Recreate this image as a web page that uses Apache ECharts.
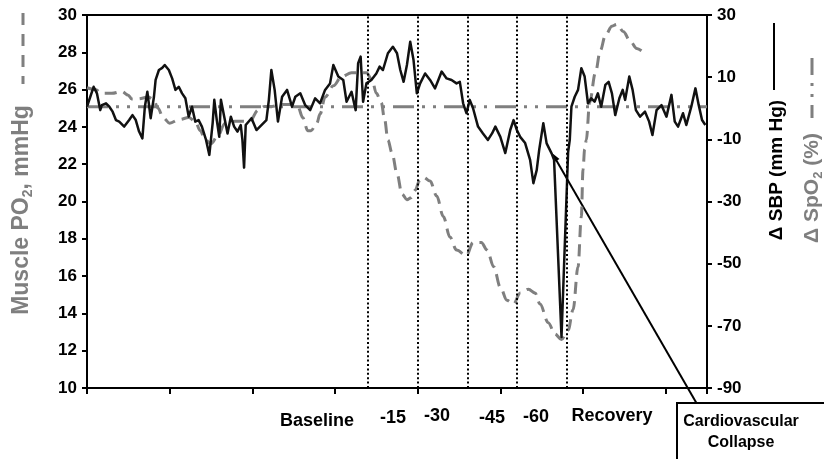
<!DOCTYPE html>
<html>
<head>
<meta charset="utf-8">
<script src="https://cdn.jsdelivr.net/npm/echarts@6/dist/echarts.min.js"></script>
<style>
  html, body { margin: 0; padding: 0; background: #fff; }
  #chart { width: 824px; height: 459px; }
</style>
</head>
<body>
<div id="chart"></div>
<script>
// Time position of each sample along the protocol (arbitrary time units, 0–750)
const sbpTime = [
  0, 4, 8, 12, 16, 18, 23, 27, 31, 35,
  39, 45, 51, 55, 59, 63, 67, 70, 73, 77,
  81, 83, 87, 91, 94, 99, 103, 107, 111, 115,
  119, 123, 127, 131, 135, 139, 144, 148, 152, 154,
  157, 160, 162, 166, 170, 174, 178, 182, 186, 188,
  190, 192, 199, 205, 211, 217, 220, 223, 227, 231,
  236, 242, 248, 252, 258, 264, 270, 276, 282, 288,
  294, 298, 304, 310, 314, 320, 325, 328, 331, 334,
  338, 344, 350, 354, 358, 364, 370, 375, 379, 383,
  387, 391, 395, 399, 403, 409, 415, 421, 425, 429,
  435, 441, 447, 451, 455, 459, 463, 467, 473, 479,
  485, 490, 494, 500, 506, 512, 516, 520, 524, 530,
  536, 540, 544, 547, 552, 556, 562, 565, 574, 582,
  584, 586, 590, 594, 598, 602, 606, 610, 614, 618,
  622, 627, 631, 635, 639, 644, 648, 651, 656, 660,
  664, 669, 675, 680, 684, 689, 695, 701, 707, 711,
  715, 721, 725, 731, 736, 740, 744, 748
];
// Change in systolic blood pressure (mm Hg)
const sbpChange = [
  0.5, 3.7, 6.9, 4.8, -0.6, 1.0, 1.6, 0.5, -1.1, -3.8,
  -4.3, -5.9, -3.8, -2.2, -3.8, -7.5, -9.7, 0.5, 5.3, -3.2,
  3.7, 9.1, 12.3, 13.0, 13.9, 12.3, 9.6, 5.9, 6.9, 4.8,
  3.2, -2.7, 0.5, -4.3, -3.8, -5.9, -10.2, -15.0, -4.8, 2.7,
  -3.8, -9.2, 2.7, -2.7, -8.1, -2.7, -5.9, -7.5, -5.4, -10.2,
  -19.1, -5.4, -3.2, -7.0, -5.4, -3.8, 2.7, 12.3, 5.9, -4.3,
  3.7, 5.9, 0.5, 3.7, 4.8, 1.0, -0.6, 3.2, 1.6, 5.9,
  8.0, 13.9, 10.2, 9.1, 2.1, 5.3, -0.6, 14.5, 16.6, 2.1,
  8.0, 9.1, 11.2, 13.4, 12.3, 17.7, 19.8, 17.7, 12.3, 8.5,
  13.9, 21.4, 15.5, 4.8, 8.0, 11.2, 9.1, 6.4, 9.1, 11.8,
  9.6, 9.1, 8.0, 8.5, 1.6, -1.6, 2.7, 0.0, -5.9, -8.1,
  -10.2, -8.1, -5.9, -9.2, -14.4, -7.0, -3.8, -7.0, -9.2, -11.2,
  -16.6, -24.1, -19.9, -13.4, -4.8, -11.3, -14.5, -16.6, -73.6, -14.1,
  -10.2, 0.5, 3.7, 5.9, 12.9, 10.2, 1.6, 3.2, 2.1, 4.8,
  0.5, 7.5, 8.5, 4.8, -2.2, 3.2, 5.9, 2.7, 10.2, 5.9,
  -0.6, -2.7, -1.1, -4.3, -8.6, -0.6, 1.0, -2.7, 4.3, -4.3,
  -5.9, -1.6, -5.4, 0.5, 6.4, 1.0, -3.8, -5.4
];

// Muscle oxygen tension (mmHg)
const po2Time = [
  0, 10, 18, 30, 42, 50, 54, 62, 74, 80,
  86, 92, 100, 112, 123, 131, 137, 143, 150, 158,
  167, 179, 197, 207, 215, 224, 236, 248, 255, 261,
  267, 271, 278, 282, 288, 298, 308, 320, 332, 338,
  345, 350, 356, 360, 364, 369, 375, 381, 387, 392,
  397, 402, 407, 415, 423, 431, 439, 447, 459, 467,
  477, 484, 492, 500, 508, 516, 524, 534, 542, 548,
  558, 566, 574, 582, 588, 594, 598, 600, 602, 604,
  608, 615, 621, 627, 635, 641, 649, 657, 665, 673
];
const po2Values = [
  26.1, 26.0, 25.8, 25.8, 25.9, 25.7, 25.5, 25.5, 25.6, 25.5,
  25.0, 24.5, 24.2, 24.4, 24.5, 24.3, 23.8, 23.3, 23.1, 23.5,
  24.2, 24.3, 24.3, 24.9, 25.1, 25.1, 25.2, 25.2, 25.1, 24.5,
  23.8, 23.8, 24.2, 24.7, 25.6, 26.2, 26.7, 26.9, 26.9, 26.9,
  26.5, 25.8, 25.3, 24.4, 23.3, 22.6, 21.5, 20.4, 20.1, 20.2,
  20.6, 21.1, 21.3, 21.1, 20.3, 19.2, 18.1, 17.4, 17.1, 17.8,
  17.8, 17.4, 16.5, 15.4, 14.7, 14.5, 15.1, 15.3, 15.1, 14.5,
  13.5, 12.9, 12.6, 13.1, 14.2, 16.5, 19.2, 21.7, 22.8, 23.3,
  25.3, 26.9, 28.1, 28.9, 29.4, 29.5, 29.1, 28.6, 28.2, 28.0
];

// Change in oxygen saturation (%), unchanged through the protocol
const spo2Time = [0, 750];
const spo2Change = [0.5, 0.5];

// Start of each hemorrhage stage and of recovery
const stageBoundaries = [340, 400, 460, 520, 580];
const stageLabels = ['Baseline', '-15', '-30', '-45', '-60', 'Recovery'];
const eventLabel = ['Cardiovascular', 'Collapse'];

const zip = (xs, ys) => xs.map((x, i) => [x, ys[i]]);

const FONT = '"Liberation Sans", Arial, sans-serif';
const GRAY = '#7f7f7f';

const chart = echarts.init(document.getElementById('chart'), null, { renderer: 'canvas' });

const axisBase = {
  axisLine: { show: true, onZero: false, lineStyle: { color: '#000', width: 2 } },
  axisTick: { show: true, inside: false, length: 5, lineStyle: { color: '#000', width: 2 } },
  splitLine: { show: false },
  axisLabel: { color: '#000', fontFamily: FONT, fontWeight: 'bold', fontSize: 17, margin: 10 }
};

// Text placed under the x axis for each protocol stage
const stagePos = [[317, 421], [393, 418], [437, 416], [492, 418], [536, 417], [612, 416]];
const stageText = stageLabels.map((t, i) => ({
  type: 'text', x: stagePos[i][0], y: stagePos[i][1], silent: true,
  style: { text: t, textAlign: 'center', textVerticalAlign: 'middle',
    font: 'bold 18px ' + FONT, fill: '#000' }
}));

chart.setOption({
  animation: false,
  backgroundColor: '#fff',
  grid: { left: 87, right: 117, top: 15, bottom: 71, show: true, borderColor: '#000', borderWidth: 2, backgroundColor: 'transparent' },
  xAxis: Object.assign({}, axisBase, {
    type: 'value', min: 0, max: 750, interval: 100,
    axisTick: { show: true, length: 6, lineStyle: { color: '#000', width: 2 } },
    axisLabel: { show: false }
  }),
  yAxis: [
    Object.assign({}, axisBase, { type: 'value', position: 'left', min: 10, max: 30, interval: 2 }),
    Object.assign({}, axisBase, { type: 'value', position: 'right', min: -90, max: 30, interval: 20 })
  ],
  series: [
    {
      name: 'ΔSpO2', type: 'line', yAxisIndex: 1, data: zip(spo2Time, spo2Change),
      showSymbol: false, silent: true,
      lineStyle: { color: GRAY, width: 3, type: [21, 8, 3, 8, 3, 8] }
    },
    {
      name: 'Muscle PO2', type: 'line', yAxisIndex: 0, data: zip(po2Time, po2Values),
      showSymbol: false, silent: true, smooth: 0.35, smoothMonotone: 'x',
      lineStyle: { color: GRAY, width: 3, type: [12, 7] }
    },
    {
      name: 'ΔSBP', type: 'line', yAxisIndex: 1, data: zip(sbpTime, sbpChange),
      showSymbol: false, silent: true,
      lineStyle: { color: '#111', width: 2.5, join: 'round' },
      markLine: {
        silent: true, symbol: ['none', 'none'], label: { show: false },
        lineStyle: { color: '#000', width: 2, type: [2, 2.4] },
        data: stageBoundaries.map(v => ({ xAxis: v }))
      }
    }
  ],
  graphic: [
    // left axis title with its line sample
    { type: 'line', silent: true, shape: { x1: 23, y1: 13, x2: 23, y2: 84 },
      style: { stroke: GRAY, lineWidth: 3, lineDash: [12, 9] } },
    { type: 'text', x: 22, y: 210, rotation: Math.PI / 2, silent: true,
      style: { text: '{a|Muscle PO}{s|2}{a|, mmHg}', textAlign: 'center', textVerticalAlign: 'middle',
        rich: {
          a: { fontFamily: FONT, fontWeight: 'bold', fontSize: 23, fill: GRAY, lineHeight: 26 },
          s: { fontFamily: FONT, fontWeight: 'bold', fontSize: 14, fill: GRAY, lineHeight: 13, verticalAlign: 'bottom' }
        } } },
    // right axis titles with their line samples
    { type: 'line', silent: true, shape: { x1: 774, y1: 23, x2: 774, y2: 90 },
      style: { stroke: '#000', lineWidth: 2 } },
    { type: 'text', x: 777, y: 170, rotation: Math.PI / 2, silent: true,
      style: { text: 'Δ SBP (mm Hg)', textAlign: 'center', textVerticalAlign: 'middle',
        font: 'bold 19px ' + FONT, fill: '#000' } },
    { type: 'line', silent: true, shape: { x1: 812, y1: 58, x2: 812, y2: 118 },
      style: { stroke: GRAY, lineWidth: 3, lineDash: [17, 8, 3, 8, 3, 8] } },
    { type: 'text', x: 812, y: 188, rotation: Math.PI / 2, silent: true,
      style: { text: '{a|Δ SpO}{s|2}{a| (%)}', textAlign: 'center', textVerticalAlign: 'middle',
        rich: {
          a: { fontFamily: FONT, fontWeight: 'bold', fontSize: 21, fill: GRAY, lineHeight: 25 },
          s: { fontFamily: FONT, fontWeight: 'bold', fontSize: 13, fill: GRAY, lineHeight: 12, verticalAlign: 'bottom' }
        } } },
    // callout for the collapse event
    { type: 'line', silent: true, shape: { x1: 697, y1: 404, x2: 555, y2: 158 },
      style: { stroke: '#000', lineWidth: 2 } },
    { type: 'polygon', silent: true, shape: { points: [[552, 153], [559.5, 159], [553.5, 162.6]] },
      style: { fill: '#000' } },
    { type: 'rect', silent: true, shape: { x: 677, y: 403, width: 160, height: 70 },
      style: { fill: '#fff', stroke: '#000', lineWidth: 2 } },
    { type: 'text', x: 741, y: 422, silent: true,
      style: { text: eventLabel[0], textAlign: 'center', textVerticalAlign: 'middle', font: 'bold 16px ' + FONT, fill: '#000' } },
    { type: 'text', x: 741, y: 443, silent: true,
      style: { text: eventLabel[1], textAlign: 'center', textVerticalAlign: 'middle', font: 'bold 16px ' + FONT, fill: '#000' } }
  ].concat(stageText)
});
</script>
</body>
</html>
